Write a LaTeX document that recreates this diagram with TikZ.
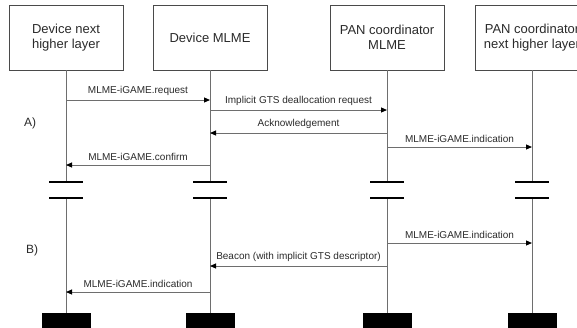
\documentclass[tikz,border=0pt]{standalone}
\usepackage{fontspec}
\setmainfont{Liberation Sans}
\usetikzlibrary{positioning, arrows.meta}
\definecolor{linegray}{HTML}{6E6E6E}
\definecolor{boxgray}{HTML}{4A4A4A}
\definecolor{textgray}{HTML}{2A2A2A}

\begin{document}
\begin{tikzpicture}[
    x=1pt, y=-1pt,
    every node/.style={font=\fontsize{10}{12}\selectfont},
    entity/.style={draw=boxgray, line width=0.9pt, minimum width=114pt, minimum height=65pt, align=center, text=textgray, font=\fontsize{13}{15.5}\selectfont},
    life/.style={linegray, line width=1pt},
    msg/.style={linegray, line width=1pt, -{Triangle[length=6pt, width=5pt, color=black]}},
    lbl/.style={above=1pt, text=textgray},
    bar/.style={fill=black, minimum width=34pt, minimum height=2pt, inner sep=0pt},
    endbox/.style={fill=black, minimum width=49pt, minimum height=22pt, inner sep=0pt, anchor=north},
    phase/.style={text=textgray, font=\fontsize{12}{14}\selectfont},
  ]
  \useasboundingbox (0,0) rectangle (577,327);

  % Entities
  \node[entity] (dhl) at (66,37.5) {Device next\\higher layer};
  \node[entity] (dml) at (210,37.5) {Device MLME};
  \node[entity] (pml) at (387,37.5) {PAN coordinator\\MLME};
  \node[entity] (phl) at (532,37.5) {PAN coordinator\\next higher layer};

  % Breaks and ends of the lifelines
  \node[bar] (dhl1) at (dhl |- 0,182) {};
  \node[bar] (dhl2) at (dhl |- 0,198) {};
  \node[bar] (dml1) at (dml |- 0,182) {};
  \node[bar] (dml2) at (dml |- 0,198) {};
  \node[bar] (pml1) at (pml |- 0,182) {};
  \node[bar] (pml2) at (pml |- 0,198) {};
  \node[bar] (phl1) at (phl |- 0,182) {};
  \node[bar] (phl2) at (phl |- 0,198) {};
  \node[endbox] (dhle) at (dhl |- 0,313) {};
  \node[endbox] (dmle) at (dml |- 0,313) {};
  \node[endbox] (pmle) at (pml |- 0,313) {};
  \node[endbox] (phle) at (phl |- 0,313) {};

  \draw[life] (dhl) -- (dhl1);
  \draw[life] (dhl2) -- (dhle);
  \draw[life] (dml) -- (dml1);
  \draw[life] (dml2) -- (dmle);
  \draw[life] (pml) -- (pml1);
  \draw[life] (pml2) -- (pmle);
  \draw[life] (phl) -- (phl1);
  \draw[life] (phl2) -- (phle);

  % A)
  \node[phase] (pa) at (30,123) {A)};
  \draw[msg] (dhl |- 0,100) -- node[lbl] {MLME-iGAME.request} (dml |- 0,100);
  \draw[msg] (dml |- 0,110) -- node[lbl] {Implicit GTS deallocation request} (pml |- 0,110);
  \draw[msg] (pml |- 0,133) -- node[lbl] {Acknowledgement} (dml |- 0,133);
  \draw[msg] (pml |- 0,147) -- node[lbl] {MLME-iGAME.indication} (phl |- 0,147);
  \draw[msg] (dml |- 0,165) -- node[lbl] {MLME-iGAME.confirm} (dhl |- 0,165);

  % B)
  \node[phase] (pb) at (32,250) {B)};
  \draw[msg] (pml |- 0,243) -- node[lbl] {MLME-iGAME.indication} (phl |- 0,243);
  \draw[msg] (pml |- 0,266) -- node[lbl] {Beacon (with implicit GTS descriptor)} (dml |- 0,266);
  \draw[msg] (dml |- 0,292) -- node[lbl] {MLME-iGAME.indication} (dhl |- 0,292);
\end{tikzpicture}
\end{document}
